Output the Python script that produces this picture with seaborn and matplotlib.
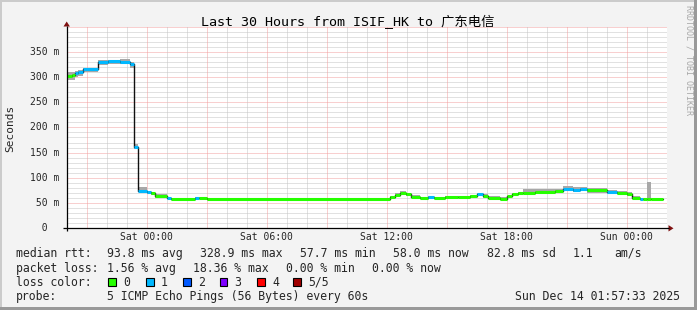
import numpy as np
import pandas as pd
import matplotlib
matplotlib.use("Agg")
import matplotlib.pyplot as plt
import seaborn as sns
from matplotlib.patches import Rectangle, Polygon

# ---------------- data (hours since Fri 20:00, values in ms) ----------------
seg_start_h = [0.00, 0.27, 0.42, 0.57, 0.82, 1.57, 2.07, 2.67, 3.17, 3.37,
               3.57, 4.02, 4.22, 4.42, 5.02, 5.22, 6.42, 6.62, 7.02, 16.17,
               16.42, 16.67, 16.97, 17.22, 17.67, 18.07, 18.37, 18.92, 19.57, 20.17,
               20.52, 20.82, 21.07, 21.67, 22.02, 22.27, 22.57, 22.82, 23.42, 24.42,
               24.82, 25.32, 25.67, 26.02, 27.02, 27.52, 28.02, 28.27, 28.67, 28.82,
               29.02, 29.22]
median_ms = [301, 303, 307, 309, 315, 330, 331, 330, 326, 162,
             74.5, 71, 69, 64, 60, 58.5, 61, 61, 58.5, 62,
             66, 70, 67, 63, 60, 63, 60, 62, 63, 64,
             68, 63.6, 60.3, 58.3, 63.6, 67.6, 69.6, 70.9, 71.6, 74.2,
             78.2, 76.9, 78.2, 75.5, 72.2, 70.9, 68.2, 60.3, 59.0, 58.3,
             58.3, 58.3]
loss_level = [0, 0, 1, 1, 1, 1, 1, 1, 1, 1,
              1, 1, 0, 0, 1, 0, 1, 0, 0, 0,
              0, 0, 0, 0, 0, 1, 0, 0, 0, 0,
              1, 0, 0, 0, 0, 0, 0, 0, 0, 0,
              1, 1, 1, 0, 1, 0, 0, 0, 1, 0,
              0, 0]
smoke_lo_ms = [293, 294, 299, 302, 309, 324, 325, 325, 317, 158,
               71, 67, 66, 60, 58, 57.5, 59, 59, 57.5, 60,
               63, 66, 64, 60, 58, 60, 58, 60, 60, 61,
               64, 60, 58, 56, 61, 65, 66, 67, 67, 69,
               73, 72, 73, 70, 68, 67, 64, 58, 57, 57,
               57, 57]
smoke_hi_ms = [309, 310, 312, 314, 318, 334, 334, 335, 330, 167,
               81, 74, 72, 67, 62, 60, 62, 63, 60, 64,
               69, 73, 70, 66, 62, 65, 62, 64, 65, 66,
               70, 67, 64, 62, 65, 70, 72, 77, 78, 78,
               84, 82, 82, 79, 76, 74, 71, 64, 61, 60,
               92, 60]
data_end_h = 29.82

x_tick_hours = [4, 10, 16, 22, 28]
x_tick_labels = ["Sat 00:00", "Sat 06:00", "Sat 12:00", "Sat 18:00", "Sun 00:00"]
y_tick_values = [0, 50, 100, 150, 200, 250, 300, 350]
y_tick_labels = ["  0  ", " 50 m", "100 m", "150 m", "200 m", "250 m", "300 m", "350 m"]

loss_colors = ["#26ff00", "#00b8ff", "#0059ff", "#7e00ff", "#ff0000", "#a00000"]
loss_names = ["0", "1", "2", "3", "4", "5/5"]

title = "Last 30 Hours from ISIF_HK to 广东电信"
stats_rtt = ["median rtt:", "93.8 ms avg", "328.9 ms max", "57.7 ms min",
             "58.0 ms now", "82.8 ms sd", "1.1", "am/s"]
stats_loss = ["packet loss:", "1.56 % avg", "18.36 % max", "0.00 % min", "0.00 % now"]
probe_text = ["probe:", "5 ICMP Echo Pings (56 Bytes) every 60s"]
stamp = "Sun Dec 14 01:57:33 2025"

# ---------------- figure ----------------
W, H, DPI = 697, 310, 100
sns.set_style("white")
plt.rcParams["font.family"] = ["DejaVu Sans Mono", "Noto Sans CJK SC"]

fig = plt.figure(figsize=(W / DPI, H / DPI), dpi=DPI, facecolor="#f3f3f3")

X0, X1 = 66.7, 666.7
Y0, YT = 228.3, 26.5
ax = fig.add_axes([X0 / W, 1 - Y0 / H, (X1 - X0) / W, (Y0 - YT) / H])
ax.set_xlim(0, 30)
ax.set_ylim(0, 400)
ax.set_facecolor("white")
for s in ax.spines.values():
    s.set_visible(False)

minor_c, major_c = "#c4c4c4", "#f2a0a0"
dot = (0, (1, 1))
for v in range(10, 401, 10):
    major = v % 50 == 0
    ax.axhline(v, color=major_c if major else minor_c, lw=0.72, ls=dot, zorder=1)
for h in range(1, 30):
    major = h % 3 == 1
    ax.axvline(h, color=major_c if major else minor_c, lw=0.72, ls=dot, zorder=1)

edges = seg_start_h + [data_end_h]
ax.fill_between(edges, smoke_lo_ms + [smoke_lo_ms[-1]], smoke_hi_ms + [smoke_hi_ms[-1]],
                step="post", color="#a8a8a8", lw=0, zorder=2)

df = pd.DataFrame({"h": edges, "ms": median_ms + [median_ms[-1]]})
sns.lineplot(data=df, x="h", y="ms", drawstyle="steps-post", color="#101010",
             lw=1.0, ax=ax, zorder=3, estimator=None, sort=False)
ax.hlines(median_ms, seg_start_h, edges[1:],
          colors=[loss_colors[l] for l in loss_level], lw=2.2, zorder=4)
ax.set_xlabel("")
ax.set_ylabel("")
ax.set_xticks([])
ax.set_yticks([])

# ---------------- overlay in pixel coordinates ----------------
ov = fig.add_axes([0, 0, 1, 1], facecolor="none")
ov.set_xlim(0, W)
ov.set_ylim(H, 0)
ov.axis("off")

# 3D frame
ov.add_patch(Rectangle((0, 0), W, 2, color="#cbcbcb", lw=0))
ov.add_patch(Rectangle((0, 0), 2, H, color="#cbcbcb", lw=0))
ov.add_patch(Rectangle((0, H - 3), W, 3, color="#999999", lw=0))
ov.add_patch(Rectangle((W - 3, 0), 3, H, color="#999999", lw=0))

# axes lines & arrows
ov.plot([62.7, 669], [Y0, Y0], color="black", lw=0.9, solid_capstyle="butt")
ov.plot([X0, X0], [230.5, 26], color="black", lw=0.9, solid_capstyle="butt")
ov.add_patch(Polygon([[668.5, Y0 - 3.2], [668.5, Y0 + 3.2], [673.5, Y0]],
                     closed=True, color="#7f1010", lw=0))
ov.add_patch(Polygon([[X0 - 3.2, 26.5], [X0 + 3.2, 26.5], [X0, 21.5]],
                     closed=True, color="#7f1010", lw=0))

# title
ov.text(347.5, 22.3, title, fontsize=9.6, ha="center", va="center", color="black")

# y tick labels
def y_px(v):
    return Y0 - v * (Y0 - YT) / 400.0

for v, lab in zip(y_tick_values, y_tick_labels):
    ov.text(30.5, y_px(v), lab, fontsize=7.0, ha="left", va="center")

# x tick labels
def x_px(h):
    return X0 + h * (X1 - X0) / 30.0

for h, lab in zip(x_tick_hours, x_tick_labels):
    ov.text(x_px(h), 237.5, lab, fontsize=7.0, ha="center", va="center")

# y axis label
ov.text(10.5, 128, "Seconds", fontsize=8.0, rotation=90, ha="center", va="center")

# vertical watermark
ov.text(688.5, 60, "RRDTOOL / TOBI OETIKER", fontsize=6.0, rotation=270,
        ha="center", va="center", color="#a8a8a8")

# legend lines
LF = 8.3
rtt_x = [16, 107, 200, 300, 393, 487, 573, 614]
for xx, t in zip(rtt_x, stats_rtt):
    ov.text(xx, 253.3, t, fontsize=LF, ha="left", va="center")
loss_x = [16, 107, 193, 286, 372]
for xx, t in zip(loss_x, stats_loss):
    ov.text(xx, 268.3, t, fontsize=LF, ha="left", va="center")

ov.text(16, 282.3, "loss color:", fontsize=LF, ha="left", va="center")
box_x = [108, 146, 183, 219.5, 257, 293]
for bx, c, n in zip(box_x, loss_colors, loss_names):
    ov.add_patch(Rectangle((bx, 278.3), 7.5, 8, facecolor=c, edgecolor="black", lw=0.8))
    ov.text(bx + 15, 282.3, n, fontsize=LF, ha="left", va="center")

ov.text(16, 296.7, probe_text[0], fontsize=LF, ha="left", va="center")
ov.text(107, 296.7, probe_text[1], fontsize=LF, ha="left", va="center")
ov.text(680, 296.7, stamp, fontsize=LF, ha="right", va="center")

fig.savefig("out.png", dpi=DPI, facecolor=fig.get_facecolor())
